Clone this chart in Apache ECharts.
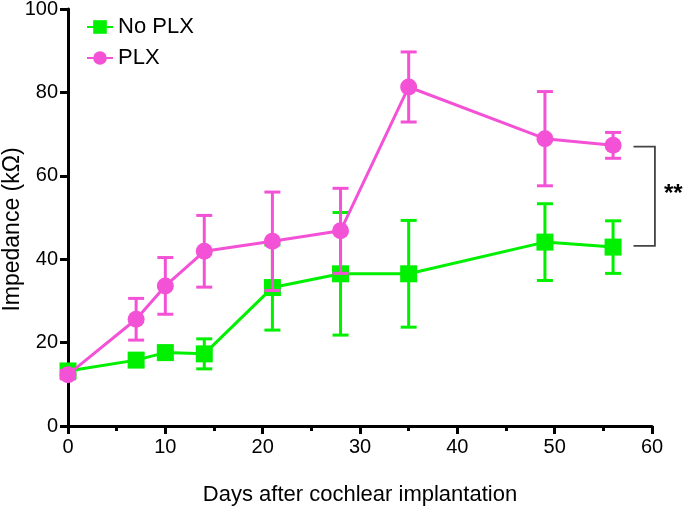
<!DOCTYPE html>
<html><head><meta charset="utf-8">
<script src="https://cdn.jsdelivr.net/npm/echarts@6/dist/echarts.min.js"></script>
<style>html,body{margin:0;padding:0;background:#fff}#c{width:685px;height:509px}</style>
</head><body><div id="c"></div>
<script>
var days = [0, 7, 10, 14, 21, 28, 35, 49, 56];
var noPlxMean = [13.2, 15.8, 17.6, 17.3, 33.2, 36.5, 36.5, 44.1, 42.9];
var noPlxErr  = [1.0, 1.5, 1.5, 3.6, 10.2, 14.7, 12.8, 9.2, 6.3];
var plxMean = [12.3, 25.6, 33.6, 41.9, 44.3, 46.8, 81.3, 68.9, 67.3];
var plxErr  = [1.0, 5.0, 6.8, 8.6, 11.8, 10.2, 8.4, 11.3, 3.1];
var xTicks = [0, 10, 20, 30, 40, 50, 60];
var yTicks = [0, 20, 40, 60, 80, 100];
var sigLabel = '**';
var sigLow = 43.2, sigHigh = 67.0, sigX0 = 58.1, sigX1 = 60.3;

var GREEN = '#00f000', PINK = '#f452d6';
var FONT = 'Liberation Sans, Arial, sans-serif';

function pts(m){ return days.map(function(d,i){ return [d, m[i]]; }); }
function errs(m,e){ return days.map(function(d,i){ return [d, m[i]-e[i], m[i]+e[i]]; }); }
function errSeries(name, data, color, z){
  return {
    type:'custom', name:name, z:z, data:data, silent:true,
    renderItem:function(params, api){
      var lo = api.coord([api.value(0), api.value(1)]);
      var hi = api.coord([api.value(0), api.value(2)]);
      var w = 8;
      var st = {stroke:color, lineWidth:3};
      return {type:'group', children:[
        {type:'line', shape:{x1:lo[0],y1:lo[1],x2:hi[0],y2:hi[1]}, style:st},
        {type:'line', shape:{x1:lo[0]-w,y1:lo[1],x2:lo[0]+w,y2:lo[1]}, style:st},
        {type:'line', shape:{x1:hi[0]-w,y1:hi[1],x2:hi[0]+w,y2:hi[1]}, style:st}
      ]};
    }
  };
}

var chart = echarts.init(document.getElementById('c'));
chart.setOption({
  animation:false,
  grid:{left:68, right:33, top:9, bottom:83, containLabel:false, outerBoundsMode:'none'},
  legend:{
    orient:'vertical', left:81, top:11, itemGap:9, itemWidth:26, itemHeight:17,
    data:['No PLX','PLX'],
    textStyle:{fontFamily:FONT, fontSize:22, color:'#000'}
  },
  xAxis:{
    type:'value', min:0, max:60, interval:10,
    name:'Days after cochlear implantation', nameLocation:'middle', nameGap:58,
    nameMoveOverlap:false,
    nameTextStyle:{fontFamily:FONT, fontSize:22, color:'#000'},
    axisLine:{show:true, onZero:false, lineStyle:{color:'#000', width:3}},
    axisTick:{show:true, length:8, lineStyle:{color:'#000', width:3}},
    minorTick:{show:true, splitNumber:2, length:5, lineStyle:{color:'#000', width:3}},
    axisLabel:{fontFamily:FONT, fontSize:20, color:'#000', margin:11,
      formatter:function(v){ return xTicks.indexOf(v)>=0 ? String(v) : ''; }},
    splitLine:{show:false}
  },
  yAxis:{
    type:'value', min:0, max:100, interval:20,
    name:'Impedance (kΩ)', nameLocation:'middle', nameGap:44,
    nameMoveOverlap:false,
    nameTextStyle:{fontFamily:FONT, fontSize:23, color:'#000', padding:[0,24,0,0]},
    axisLine:{show:true, onZero:false, lineStyle:{color:'#000', width:3}},
    axisTick:{show:true, length:8, lineStyle:{color:'#000', width:3}},
    axisLabel:{fontFamily:FONT, fontSize:20, color:'#000', margin:10,
      formatter:function(v){ return yTicks.indexOf(v)>=0 ? String(v) : ''; }},
    splitLine:{show:false}
  },
  series:[
    errSeries('No PLX err', errs(noPlxMean,noPlxErr), GREEN, 2),
    {type:'line', name:'No PLX', data:pts(noPlxMean), z:3, symbol:'rect', symbolSize:17,
      itemStyle:{color:GREEN}, lineStyle:{color:GREEN, width:3}},
    errSeries('PLX err', errs(plxMean,plxErr), PINK, 4),
    {type:'line', name:'PLX', data:pts(plxMean), z:5, symbol:'circle', symbolSize:17,
      itemStyle:{color:PINK}, lineStyle:{color:PINK, width:3}}
  ]
});

var a = chart.convertToPixel({gridIndex:0}, [sigX0, sigHigh]);
var b = chart.convertToPixel({gridIndex:0}, [sigX1, sigLow]);
chart.setOption({graphic:[
  {type:'polyline', shape:{points:[[a[0],a[1]],[b[0],a[1]],[b[0],b[1]],[a[0],b[1]]]},
    style:{stroke:'#444', lineWidth:1.8, fill:null}},
  {type:'text', left:b[0]+9, top:(a[1]+b[1])/2-14,
    style:{text:sigLabel, fontFamily:FONT, fontSize:24, fontWeight:'bold', fill:'#000'}}
]});
</script></body></html>
